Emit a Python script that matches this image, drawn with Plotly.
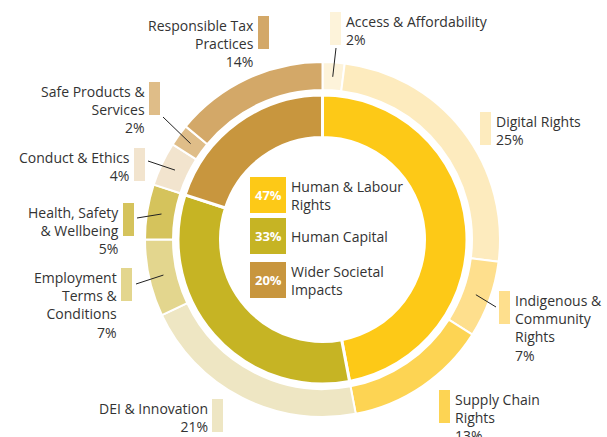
import math
import plotly.graph_objects as go

# ---------------- data ----------------
inner_labels = ["Human & Labour Rights", "Human Capital", "Wider Societal Impacts"]
inner_values = [47, 33, 20]
inner_colors = ["#FDC917", "#C6B424", "#C8963E"]
inner_display = ["Human & Labour<br>Rights", "Human Capital", "Wider Societal<br>Impacts"]

outer_labels = ["Access & Affordability", "Digital Rights", "Indigenous & Community Rights",
                "Supply Chain Rights", "DEI & Innovation", "Employment Terms & Conditions",
                "Health, Safety & Wellbeing", "Conduct & Ethics", "Safe Products & Services",
                "Responsible Tax Practices"]
outer_values = [2, 25, 7, 13, 21, 7, 5, 4, 2, 14]
outer_colors = ["#FDF3DA", "#FDEBBE", "#FEDF8D", "#FDD453", "#EEE6C3", "#E3D68E",
                "#D5C35C", "#F2E4CE", "#DFBD88", "#D3A868"]
outer_display = ["Access & Affordability<br>2%", "Digital Rights<br>25%",
                 "Indigenous &<br>Community<br>Rights<br>7%", "Supply Chain<br>Rights<br>13%",
                 "DEI & Innovation<br>21%", "Employment<br>Terms &<br>Conditions<br>7%",
                 "Health, Safety<br>& Wellbeing<br>5%", "Conduct & Ethics<br>4%",
                 "Safe Products &<br>Services<br>2%", "Responsible Tax<br>Practices<br>14%"]

# ---------------- layout helpers (pixels) ----------------
W, H = 607, 437
CX, CY = 322.5, 239.5
R_OUT, R_OUT_IN = 177.5, 149.5
R_IN, R_IN_IN = 144.5, 102.0

# label placement: bar top-left, side of text, leader line end (or None)
bar_pos = [(330, 12), (480, 112), (499, 291), (439, 390), (212, 399),
           (121, 268), (123, 203), (134, 148), (149, 82), (258, 16)]
text_side = ["right", "right", "right", "right", "left", "left", "left", "left", "left", "left"]
leader_end = [(336, 48), None, (496, 307), None, None, (136, 284), (137, 218), (148, 161), (163, 117), None]
BAR_W, BAR_H = 11, 33

def dom(r):
    return dict(x=[(CX - r) / W, (CX + r) / W], y=[1 - (CY + r) / H, 1 - (CY - r) / H])

fig = go.Figure()
fig.add_trace(go.Pie(values=outer_values, labels=outer_labels, sort=False, direction="clockwise",
                     rotation=0, hole=R_OUT_IN / R_OUT, domain=dom(R_OUT), textinfo="none",
                     marker=dict(colors=outer_colors, line=dict(color="white", width=2)),
                     showlegend=False))
fig.add_trace(go.Pie(values=inner_values, labels=inner_labels, sort=False, direction="clockwise",
                     rotation=0, hole=R_IN_IN / R_IN, domain=dom(R_IN), textinfo="none",
                     marker=dict(colors=inner_colors, line=dict(color="white", width=3)),
                     showlegend=False))

shapes = []
annotations = []
FONT = "Open Sans"
FS = 14
TXT = "#333333"
total = sum(outer_values)
cum = 0
for i, v in enumerate(outer_values):
    mid = (cum + v / 2) / total * 2 * math.pi
    cum += v
    bx, by = bar_pos[i]
    shapes.append(dict(type="rect", xref="x", yref="y", x0=bx, x1=bx + BAR_W, y0=by, y1=by + BAR_H,
                       fillcolor=outer_colors[i], line=dict(width=0)))
    if leader_end[i] is not None:
        r = 163
        sx = CX + r * math.sin(mid)
        sy = CY - r * math.cos(mid)
        ex, ey = leader_end[i]
        shapes.append(dict(type="line", xref="x", yref="y", x0=sx, y0=sy, x1=ex, y1=ey,
                           line=dict(color="#222222", width=1)))
    if text_side[i] == "right":
        annotations.append(dict(x=bx + BAR_W + 4, y=by - 1, xref="x", yref="y", text=outer_display[i],
                                showarrow=False, xanchor="left", yanchor="top", align="left",
                                borderpad=0, font=dict(family=FONT, size=FS, color=TXT)))
    else:
        annotations.append(dict(x=bx - 3, y=by - 1, xref="x", yref="y", text=outer_display[i],
                                showarrow=False, xanchor="right", yanchor="top", align="right",
                                borderpad=0, font=dict(family=FONT, size=FS, color=TXT)))

# centre legend
leg_tops = [177, 218, 262]
for i, v in enumerate(inner_values):
    t = leg_tops[i]
    shapes.append(dict(type="rect", xref="x", yref="y", x0=250, x1=286, y0=t, y1=t + 36,
                       fillcolor=inner_colors[i], line=dict(width=0)))
    annotations.append(dict(x=268, y=t + 18, xref="x", yref="y", text=f"<b>{v}%</b>",
                            showarrow=False, xanchor="center", yanchor="middle",
                            font=dict(family=FONT, size=13, color="white")))
    annotations.append(dict(x=289, y=t + 18, xref="x", yref="y", text=inner_display[i],
                            showarrow=False, xanchor="left", yanchor="middle", align="left",
                            font=dict(family=FONT, size=FS, color=TXT)))

fig.update_layout(
    width=W, height=H, margin=dict(l=0, r=0, t=0, b=0),
    paper_bgcolor="white", plot_bgcolor="rgba(0,0,0,0)",
    xaxis=dict(range=[0, W], visible=False, fixedrange=True),
    yaxis=dict(range=[H, 0], visible=False, fixedrange=True),
    shapes=shapes, annotations=annotations, showlegend=False,
)
fig.write_html("out.html", config={"displayModeBar": False})

# remove default page margin so the figure sits at the window's top-left corner
with open("out.html", "r", encoding="utf-8") as f:
    html = f.read()
html = html.replace("<head>", "<head><style>html,body{margin:0;padding:0;overflow:hidden;}</style>", 1)
with open("out.html", "w", encoding="utf-8") as f:
    f.write(html)
